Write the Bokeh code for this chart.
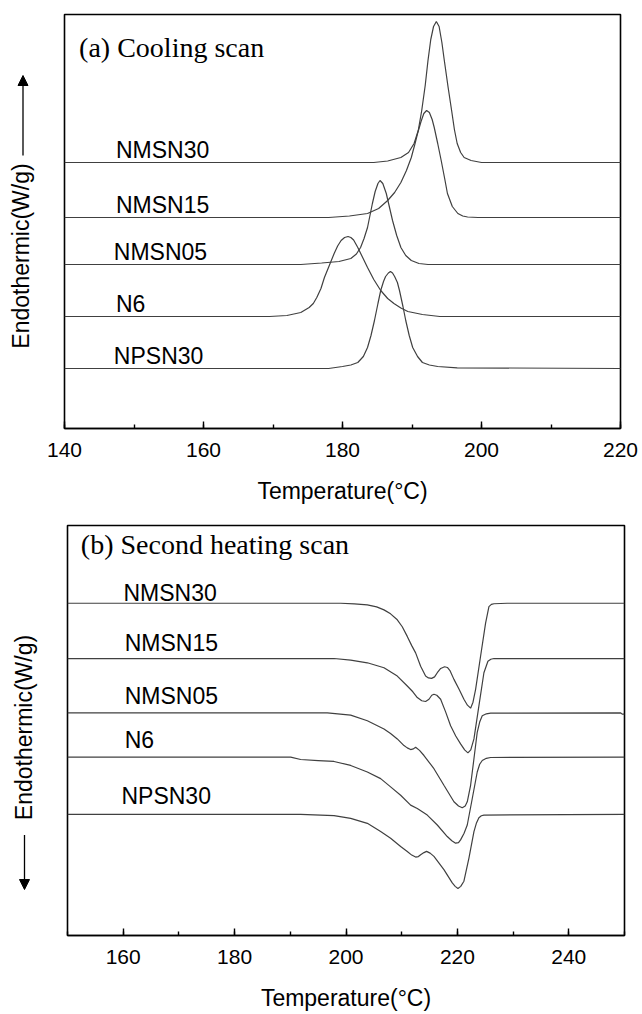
import math
from bokeh.plotting import figure
from bokeh.layouts import column, row
from bokeh.models import (ColumnDataSource, SingleIntervalTicker, Label, Arrow,
                          NormalHead, Range1d)
from bokeh.core.properties import value
from bokeh.embed import file_html
from bokeh.resources import INLINE

# ---------------- data (a) cooling scan ----------------
names = ["NMSN30", "NMSN15", "NMSN05", "N6", "NPSN30"]

a_NMSN30_T = [140, 184.5, 186.5, 188.4, 189.5, 190.3, 190.9, 191.4, 191.9, 192.3, 192.7, 193.1, 193.5, 193.9, 194.3, 194.65, 195.2, 195.7, 196.1, 196.5, 197.0, 197.5, 198.5, 200, 220]
a_NMSN30_Y = [266, 266, 267.5, 271, 276, 285, 298, 318, 343, 368, 389, 402, 407, 402, 386, 368, 341, 318, 299, 285, 276, 271, 268, 266, 266]

a_NMSN15_T = [140, 178, 181, 183.6, 185.2, 186.5, 187.5, 188.4, 189.2, 189.9, 190.4, 190.8, 191.3, 191.7, 192.1, 192.5, 192.9, 193.2, 193.7, 194.2, 194.7, 195.1, 195.8, 196.6, 197.3, 198, 199.5, 220]
a_NMSN15_Y = [211, 211, 212.5, 215, 220, 228, 236, 246, 258, 271, 284, 295, 307, 315, 318, 316, 309, 301, 285, 268, 250, 235, 222, 215, 212.5, 211.5, 211, 211]

a_NMSN05_T = [140, 174, 177, 179.5, 181.2, 182.0, 182.6, 183.1, 183.6, 184.3, 184.7, 185.1, 185.4, 185.8, 186.3, 186.8, 187.2, 187.8, 188.4, 189.1, 189.9, 191.0, 192.3, 220]
a_NMSN05_Y = [164, 164, 165.5, 167, 170, 174.5, 181, 190, 201, 225, 237, 245, 248, 245, 235, 220, 208, 193, 181, 173, 168, 165, 164, 164]

a_N6_T = [140, 169.5, 172, 174, 175.2, 175.8, 176.3, 176.9, 177.4, 178.1, 178.8, 179.3, 179.8, 180.3, 180.8, 181.2, 181.6, 182.2, 182.9, 183.6, 184.5, 185.5, 186.5, 187.4, 188.4, 189.4, 191.5, 194, 220]
a_N6_Y = [112, 112, 113, 116, 121, 125, 131, 140, 151, 163, 175, 182.5, 188, 191, 192, 191, 188.5, 181, 171, 161, 149, 138, 130, 125, 120.5, 117, 114, 112, 112]

a_NPSN30_T = [140, 178, 180, 181.2, 182.2, 183.0, 183.6, 184.1, 184.6, 185.1, 185.5, 185.9, 186.2, 186.6, 186.9, 187.2, 187.5, 187.9, 188.2, 188.7, 189.1, 189.6, 190.1, 190.8, 191.5, 192.5, 193.7, 196.5, 220]
a_NPSN30_Y = [60, 60, 62, 63.5, 66, 72, 81, 93, 108, 125, 138, 147, 152, 155.5, 157, 155.5, 152, 146, 138, 122, 108, 93, 81, 72, 66, 63.5, 62, 60.7, 60]

# ---------------- data (b) second heating scan ----------------
b_NMSN30_T = [150, 191.86, 199.04, 201.5, 203.83, 205.5, 206.82, 208.0, 209.21, 210.1, 211.0, 211.8, 212.5, 213.4, 214.29, 214.8, 215.37, 215.9, 216.39, 217.0, 217.7, 218.2, 218.7, 219.38, 220.3, 221.17, 221.8, 222.37, 222.8, 223.27, 224.16, 225.06, 225.66, 226.1, 226.56, 228.95, 250]
b_NMSN30_Y = [334.7, 334.7, 334.7, 334, 333, 331, 328, 324, 318, 311, 301.3, 292, 284.7, 271.3, 261.3, 259.5, 259, 260.5, 264.7, 269, 270.7, 270, 266.5, 258, 248, 238, 232, 229, 235, 248, 281.3, 314.7, 331.3, 333.5, 334.2, 334.7, 334.7]

b_NMSN15_T = [150, 197.85, 200.84, 203.83, 206.82, 209.21, 211.0, 212.0, 212.8, 213.6, 214.29, 214.9, 215.4, 215.79, 216.3, 216.99, 217.9, 218.78, 219.7, 220.57, 221.3, 221.89, 222.4, 222.97, 223.86, 224.76, 225.48, 226.0, 226.56, 250]
b_NMSN15_Y = [279, 279, 277.3, 274.7, 269.7, 261.3, 251.3, 245.5, 239.7, 236.5, 235.7, 238, 242, 243, 242, 238, 225, 211.3, 201, 193, 187, 184, 187, 198, 231.3, 264.7, 276.3, 278.3, 279, 279]

b_NMSN05_T = [150, 196.65, 200.84, 203.83, 206.82, 208.0, 209.21, 210.41, 211.0, 211.6, 212.1, 212.5, 213.2, 214.0, 215.79, 217.58, 219.38, 220.2, 220.87, 221.4, 221.77, 222.37, 222.97, 223.56, 224.0, 224.46, 225.2, 225.96, 249.28, 249.58, 250]
b_NMSN05_Y = [224.3, 224.3, 222, 216.3, 208, 203.5, 198, 191.3, 189, 187.3, 188, 189.7, 186.5, 181.3, 168, 151.3, 134.7, 130.5, 128.7, 130.5, 134.7, 151.3, 178, 204.7, 215, 221.3, 223.3, 224, 224.3, 223, 223]

b_N6_T = [150, 190.07, 191.86, 195, 197.85, 200.84, 203.83, 206.22, 208.01, 209.81, 211.6, 212.8, 214.59, 216.39, 218.18, 219.0, 219.68, 220.2, 220.57, 221.2, 221.77, 222.67, 223.56, 224.0, 224.46, 225.2, 225.96, 250]
b_N6_Y = [179.7, 179.7, 177.3, 176.2, 175.3, 171.3, 164.7, 158, 149.7, 141.3, 131.3, 128, 121.3, 111.3, 99.7, 95.5, 93, 93.5, 96.3, 103, 111.3, 138, 164.7, 172.5, 176.3, 178.5, 179.3, 179.7]

b_NPSN30_T = [150, 191.86, 197.85, 200.84, 203.83, 206.22, 208.01, 209.81, 211.0, 211.8, 212.5, 213.0, 213.4, 214.0, 214.47, 215.1, 215.79, 217.58, 219.08, 219.6, 220.1, 220.6, 221.17, 222.07, 222.97, 223.4, 223.86, 224.3, 224.76, 250]
b_NPSN30_Y = [122, 122, 120.7, 118, 113, 104.7, 98, 89.7, 84.7, 81, 79, 79.5, 81.3, 83.5, 84.7, 83, 79.7, 66.3, 53, 49.5, 47.3, 49.5, 54.7, 78, 104.7, 113, 118.7, 120.6, 121.3, 122]

# label anchors (left / vertical middle) for each curve name
a_lab_x = [147.4, 147.4, 147.1, 147.4, 147.1]
a_lab_y = [278.5, 223.8, 176.2, 124.8, 72.2]
b_lab_x = [160.05, 160.28, 160.28, 160.28, 159.69]
b_lab_y = [345.5, 294.5, 241.2, 197.2, 140.5]

LINE = "#404040"
SANS = "Liberation Sans"
SERIF = "Liberation Serif"


def side_label(width, height, y0, y1, lx, ly, ax_, ay0, ay1):
    # frame of this narrow figure is aligned with the frame of its row neighbour
    s = figure(width=width, height=height, x_range=Range1d(0, width), y_range=Range1d(y0, y1),
               output_backend="svg", toolbar_location=None, title=None,
               x_axis_type=None, y_axis_type=None,
               min_border_left=0, min_border_right=0, min_border_top=0, min_border_bottom=0)
    s.outline_line_color = None
    s.grid.visible = False
    s.add_layout(Label(x=lx, y=ly, text="Endothermic(W/g)", angle=math.pi / 2,
                       text_font=SANS, text_font_size="23px", text_color="black",
                       text_align="center", text_baseline="middle"))
    head = NormalHead(size=10, fill_color="black", line_color="black")
    s.add_layout(Arrow(end=head, x_start=ax_, y_start=ay0, x_end=ax_, y_end=ay1,
                       line_color="black", line_width=1.3))
    return s


def make_panel(xr, yr, bl, bt, bb, br, width, height, curves, lab_x, lab_y, title, title_xy):
    p = figure(width=width, height=height, x_range=Range1d(*xr), y_range=Range1d(*yr),
               output_backend="svg", toolbar_location=None, title=None,
               min_border_left=bl, min_border_top=bt, min_border_bottom=bb, min_border_right=br)
    p.grid.visible = False
    p.yaxis.visible = False
    p.outline_line_color = "black"
    p.outline_line_width = 1.6
    p.outline_line_alpha = 1.0

    ax = p.xaxis[0]
    ax.ticker = SingleIntervalTicker(interval=20, num_minor_ticks=2)
    ax.major_tick_in = 7
    ax.major_tick_out = 0
    ax.minor_tick_in = 4
    ax.minor_tick_out = 0
    ax.axis_line_width = 1.6
    ax.major_tick_line_width = 1.4
    ax.minor_tick_line_width = 1.4
    ax.major_tick_line_color = "black"
    ax.minor_tick_line_color = "black"
    ax.axis_line_color = "black"
    ax.major_label_text_font = SANS
    ax.major_label_text_font_size = "21px"
    ax.major_label_text_color = "black"
    ax.major_label_standoff = 14
    ax.axis_label = "Temperature(°C)"
    ax.axis_label_text_font = SANS
    ax.axis_label_text_font_size = "23px"
    ax.axis_label_text_font_style = "normal"
    ax.axis_label_text_color = "black"
    ax.axis_label_standoff = 18

    for (T, Y) in curves:
        p.line(T, Y, line_color=LINE, line_width=1.2)

    src = ColumnDataSource(dict(x=lab_x, y=lab_y, t=names))
    p.text(x="x", y="y", text="t", source=src, text_font=value(SANS),
           text_font_size="23px", text_color="black", text_align="left",
           text_baseline="middle")

    p.add_layout(Label(x=title_xy[0], y=title_xy[1], text=title, text_font=SERIF,
                       text_font_size="28px", text_color="black",
                       text_align="left", text_baseline="middle"))
    return p


# top row: 46 + (18 + 556 + 22) = 642 wide, 510 high; frame spans page y 14..428
la = side_label(46, 510, 82, 496, 20.4, 254.5, 22.5, 355, 435)
pa = make_panel((140, 220), (0, 414), 18, 14, 82, 22, 596, 510,
                [(a_NMSN30_T, a_NMSN30_Y), (a_NMSN15_T, a_NMSN15_Y), (a_NMSN05_T, a_NMSN05_Y),
                 (a_N6_T, a_N6_Y), (a_NPSN30_T, a_NPSN30_Y)],
                a_lab_x, a_lab_y, "(a) Cooling scan", (142.1, 381.5))

# bottom row: 46 + (21 + 557 + 18) = 642 wide, 503 high; frame spans page y 525..938
lb = side_label(46, 503, 75, 488, 23.8, 284.5, 24, 176.3, 121.3)
pb = make_panel((150, 250), (0, 413), 21, 15, 75, 18, 596, 503,
                [(b_NMSN30_T, b_NMSN30_Y), (b_NMSN15_T, b_NMSN15_Y), (b_NMSN05_T, b_NMSN05_Y),
                 (b_N6_T, b_N6_Y), (b_NPSN30_T, b_NPSN30_Y)],
                b_lab_x, b_lab_y, "(b) Second heating scan", (152.4, 394.3))

layout = column(row(la, pa, spacing=0), row(lb, pb, spacing=0), spacing=0)
open("out.html", "w").write(file_html(layout, INLINE))
